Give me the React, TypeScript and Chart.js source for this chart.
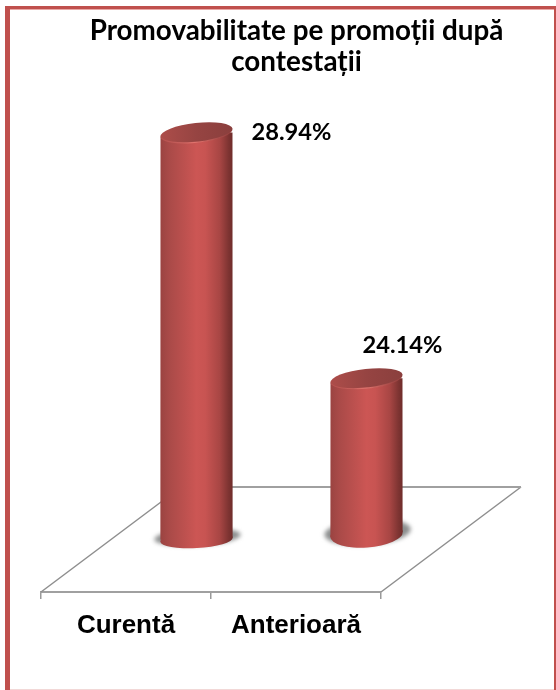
import React, { useEffect, useRef } from "react";
import { Chart, registerables } from "chart.js";

Chart.register(...registerables);

const categories = ["Curentă", "Anterioară"];
const values = [28.94, 24.14];
const valueLabels = ["28.94%", "24.14%"];
const titleLines = ["Promovabilitate pe promoții după", "contestații"];
const axisMin = 21;
const axisMax = 30;

const DEPTH_X = 140;
const DEPTH_Y = 105;
const SHIFT_X = 70.5;
const SHIFT_Y = 52.5;
const BAR_W = 72;
const RX = 36.3;
const labelOffsets = [[95, 0], [36, -33]];
const baseGeom = [{ dy: 0, ry: 8.6, rot: -0.055 }, { dy: -5, ry: 13, rot: -0.07 }];
const topGeom = { ry: 9.8, rot: -0.11 };

function bodyGradient(ctx: CanvasRenderingContext2D, cx: number) {
  const g = ctx.createLinearGradient(cx - RX, 0, cx + RX, 0);
  g.addColorStop(0, "#9a4341");
  g.addColorStop(0.12, "#a94a48");
  g.addColorStop(0.5, "#cc5654");
  g.addColorStop(0.62, "#c85452");
  g.addColorStop(0.82, "#a84644");
  g.addColorStop(0.94, "#7e3432");
  g.addColorStop(1, "#6e2c2a");
  return g;
}

const cylinderPlugin = {
  id: "cylinders",
  beforeDraw(chart: any) {
    const { ctx, width, height } = chart;
    ctx.save();
    ctx.fillStyle = "#ffffff";
    ctx.fillRect(0, 0, width, height);
    ctx.fillStyle = "#c0504d";
    ctx.fillRect(5, 6, width - 5, 3);
    ctx.fillRect(5, 6, 5, height - 6);
    ctx.fillRect(width - 2, 6, 2, height - 6);
    ctx.fillStyle = "#e9a9a7";
    ctx.fillRect(10, 9, width - 12, 1);
    ctx.fillStyle = "#f2d8d7";
    ctx.fillRect(10, height - 1, width - 12, 1);
    ctx.restore();
  },
  beforeDatasetsDraw(chart: any) {
    const { ctx, scales } = chart;
    const l = scales.x.left;
    const r = scales.x.right;
    const b = scales.y.bottom;
    ctx.save();
    ctx.strokeStyle = "#8f8f8f";
    ctx.lineWidth = 1.5;
    ctx.beginPath();
    ctx.moveTo(l, b);
    ctx.lineTo(l + DEPTH_X, b - DEPTH_Y);
    ctx.moveTo(r + DEPTH_X, b - DEPTH_Y);
    ctx.lineTo(r, b);
    ctx.stroke();
    ctx.strokeStyle = "#a0a0a0";
    ctx.lineWidth = 2;
    ctx.beginPath();
    ctx.moveTo(l + DEPTH_X, b - DEPTH_Y);
    ctx.lineTo(r + DEPTH_X, b - DEPTH_Y);
    ctx.stroke();
    ctx.restore();
    const meta = chart.getDatasetMeta(0);
    meta.data.forEach((bar: any, i: number) => {
      const g = baseGeom[i];
      ctx.save();
      ctx.translate(SHIFT_X, -SHIFT_Y);
      ctx.filter = "blur(2px)";
      ctx.fillStyle = "#8c8e8e";
      ctx.beginPath();
      ctx.ellipse(bar.x + 1, bar.base + g.dy - 2.5, RX + 7, g.ry, g.rot, 0, Math.PI * 2);
      ctx.fill();
      ctx.restore();
    });
  },
  beforeDatasetDraw(chart: any, args: any) {
    const { ctx } = chart;
    ctx.save();
    ctx.translate(SHIFT_X, -SHIFT_Y);
    ctx.beginPath();
    args.meta.data.forEach((bar: any, i: number) => {
      const g = baseGeom[i];
      const tx = RX * Math.cos(topGeom.rot);
      const ty = RX * Math.sin(topGeom.rot);
      const bx = RX * Math.cos(g.rot);
      const by = RX * Math.sin(g.rot);
      ctx.moveTo(bar.x - tx, bar.y - ty);
      ctx.lineTo(bar.x + tx, bar.y + ty);
      ctx.lineTo(bar.x + bx, bar.base + g.dy + by);
      ctx.lineTo(bar.x - bx, bar.base + g.dy - by);
      ctx.closePath();
    });
    ctx.clip();
  },
  afterDatasetDraw(chart: any, args: any) {
    const { ctx } = chart;
    ctx.restore();
    ctx.save();
    ctx.translate(SHIFT_X, -SHIFT_Y);
    args.meta.data.forEach((bar: any, i: number) => {
      const g = baseGeom[i];
      // lower rim of the cylinder
      ctx.fillStyle = bodyGradient(ctx, bar.x);
      ctx.beginPath();
      ctx.ellipse(bar.x, bar.base + g.dy, RX, g.ry, g.rot, 0, Math.PI * 2);
      ctx.fill();
      // flat top
      const tg = ctx.createLinearGradient(bar.x - RX, 0, bar.x + RX, 0);
      tg.addColorStop(0, "#ad4d4a");
      tg.addColorStop(0.5, "#964442");
      tg.addColorStop(1, "#8a3f3d");
      ctx.fillStyle = tg;
      ctx.beginPath();
      ctx.ellipse(bar.x, bar.y, RX, topGeom.ry, topGeom.rot, 0, Math.PI * 2);
      ctx.fill();
      // highlighted front rim
      const rim = ctx.createLinearGradient(bar.x - RX, 0, bar.x + RX, 0);
      rim.addColorStop(0, "rgba(200,90,88,0.35)");
      rim.addColorStop(0.5, "rgba(232,120,114,0.95)");
      rim.addColorStop(1, "rgba(170,70,68,0.25)");
      ctx.strokeStyle = rim;
      ctx.lineWidth = 1.2;
      ctx.beginPath();
      ctx.ellipse(bar.x, bar.y, RX - 0.5, topGeom.ry - 0.5, topGeom.rot, 0.05 * Math.PI, 0.95 * Math.PI);
      ctx.stroke();
    });
    ctx.restore();
  },
  afterDatasetsDraw(chart: any) {
    const { ctx } = chart;
    const meta = chart.getDatasetMeta(0);
    ctx.save();
    ctx.fillStyle = "#000000";
    ctx.font = "bold 23.7px Lato";
    ctx.textAlign = "center";
    ctx.textBaseline = "middle";
    meta.data.forEach((bar: any, i: number) => {
      ctx.fillText(
        valueLabels[i],
        bar.x + SHIFT_X + labelOffsets[i][0],
        bar.y - SHIFT_Y + labelOffsets[i][1]
      );
    });
    ctx.restore();
  },
};

export default function App() {
  const ref = useRef<HTMLCanvasElement>(null);
  useEffect(() => {
    const chart = new Chart(ref.current as HTMLCanvasElement, {
      type: "bar",
      data: {
        labels: categories,
        datasets: [
          {
            data: values,
            base: axisMin,
            yAxisID: "y",
            barThickness: BAR_W,
            borderWidth: 0,
            clip: false,
            backgroundColor: (c: any) => {
              const cx = c.chart.scales.x.getPixelForValue(c.dataIndex);
              if (!Number.isFinite(cx)) return "#c0504d";
              return bodyGradient(c.chart.ctx, cx);
            },
          } as any,
        ],
      },
      options: {
        responsive: false,
        animation: false,
        layout: { padding: { left: 37, right: 0, top: 0, bottom: 0 } },
        plugins: {
          legend: { display: false },
          tooltip: { enabled: false },
          title: {
            display: true,
            text: titleLines,
            color: "#000000",
            font: { family: "Lato", size: 27.8, weight: "bold", lineHeight: 1.13 },
            padding: { top: 15.4, bottom: 52.8 },
          },
        },
        scales: {
          x: {
            type: "category",
            offset: true,
            border: { color: "#a0a0a0", width: 2 },
            grid: { display: true, offset: true, drawOnChartArea: false, drawTicks: true, tickLength: 7, color: "#999999", lineWidth: 1.5 },
            ticks: {
              color: "#000000",
              padding: 11,
              maxRotation: 0,
              autoSkip: false,
              font: { family: "Liberation Sans", size: 26, weight: "bold" },
            },
            afterFit: (s: any) => {
              s.height = 98;
            },
          },
          y: {
            type: "linear",
            position: "left",
            min: axisMin,
            max: axisMax,
            grid: { display: false },
            border: { display: false },
            ticks: { display: false },
            afterFit: (s: any) => {
              s.width = 4;
            },
          },
          y1: {
            type: "linear",
            position: "right",
            min: 0,
            max: 1,
            grid: { display: false },
            border: { display: false },
            ticks: { display: false },
            afterFit: (s: any) => {
              s.width = 175;
            },
          },
        },
      },
      plugins: [cylinderPlugin],
    } as any);
    return () => chart.destroy();
  }, []);
  return (
    <div style={{ position: "absolute", left: 0, top: 0, width: 556, height: 690 }}>
      <canvas ref={ref} width={556} height={690} style={{ display: "block" }} />
    </div>
  );
}
